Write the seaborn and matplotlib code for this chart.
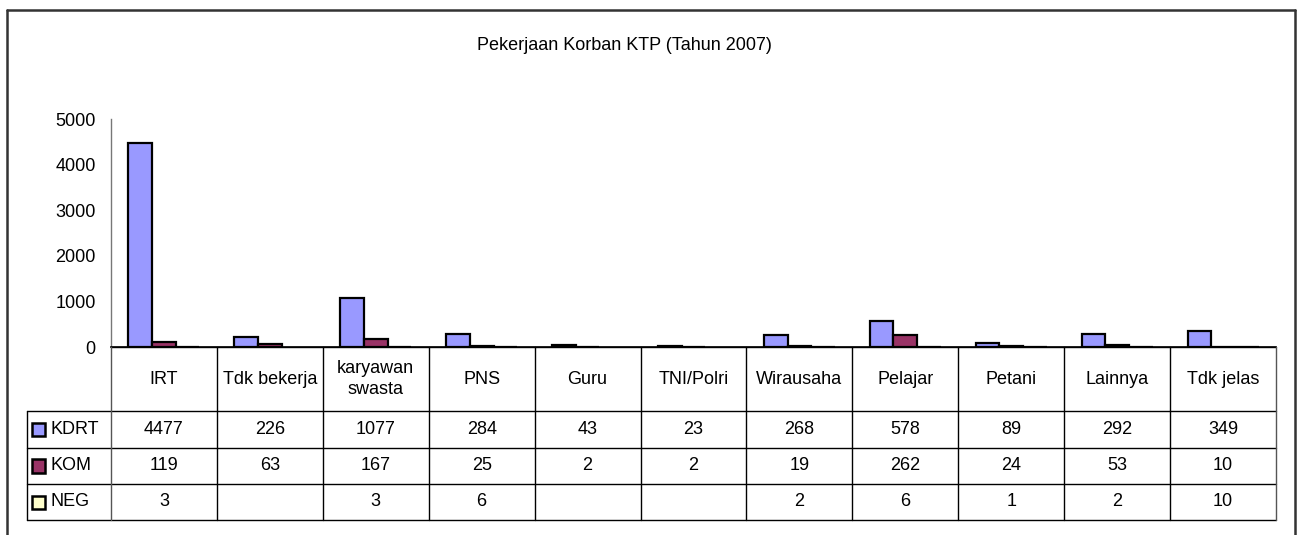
import numpy as np
import pandas as pd
import matplotlib
matplotlib.use('Agg')
import matplotlib.pyplot as plt
from matplotlib.lines import Line2D
from matplotlib.patches import Rectangle
import seaborn as sns

# data
categories = ['IRT', 'Tdk bekerja', 'karyawan\nswasta', 'PNS', 'Guru', 'TNI/Polri',
              'Wirausaha', 'Pelajar', 'Petani', 'Lainnya', 'Tdk jelas']
kdrt = [4477, 226, 1077, 284, 43, 23, 268, 578, 89, 292, 349]
kom = [119, 63, 167, 25, 2, 2, 19, 262, 24, 53, 10]
neg = [3, np.nan, 3, 6, np.nan, np.nan, 2, 6, 1, 2, 10]
series = ['KDRT', 'KOM', 'NEG']
colors = ['#9999FF', '#993366', '#FFFFCC']
title = 'Pekerjaan Korban KTP (Tahun 2007)'

sns.set_theme(style='white')
plt.rcParams['font.family'] = ['Liberation Sans', 'DejaVu Sans']
plt.rcParams['text.color'] = 'black'

W, H = 1300, 535
fig = plt.figure(figsize=(W / 100, H / 100), dpi=100)
FS = 13


def fx(px):
    return px / W


def fy(py):
    return 1 - py / H


# plot area in pixels
left, right, top, base = 111, 1276, 119, 347
ax = fig.add_axes([fx(left), fy(base), fx(right - left), fy(top) - fy(base)])

df = pd.DataFrame({
    'cat': categories * 3,
    'serie': np.repeat(series, len(categories)),
    'val': kdrt + kom + neg,
})
sns.barplot(data=df, x='cat', y='val', hue='serie', order=categories, hue_order=series,
            palette=colors, saturation=1, width=0.67, edgecolor='black', linewidth=1.6,
            legend=False, ax=ax)

ax.set_xlim(-0.5, len(categories) - 0.5)
ax.set_ylim(0, 5000)
ax.set_yticks(range(0, 5001, 1000))
ax.tick_params(axis='y', direction='out', length=6, width=1, color='#555555',
               labelsize=FS, pad=5, labelcolor='black')
ax.tick_params(axis='x', length=0, labelbottom=False)
ax.set_xlabel('')
ax.set_ylabel('')
for s in ['top', 'right']:
    ax.spines[s].set_visible(False)
ax.spines['left'].set_color('#777777')
ax.spines['left'].set_linewidth(1)
ax.spines['bottom'].set_color('black')
ax.spines['bottom'].set_linewidth(1.2)
ax.set_facecolor('white')

# data table under the plot
row_y = [347, 411, 448, 484, 520]
leg_x = 27
colw = (right - left) / len(categories)
lc = 'black'
lw = 1.0
fig.add_artist(Line2D([fx(left), fx(right)], [fy(row_y[0])] * 2, color=lc, lw=lw))
for yy in row_y[1:]:
    fig.add_artist(Line2D([fx(leg_x), fx(right)], [fy(yy)] * 2, color=lc, lw=lw))
for i in range(len(categories) + 1):
    xx = left + i * colw
    fig.add_artist(Line2D([fx(xx)] * 2, [fy(row_y[0]), fy(row_y[-1])],
                          color='#555555' if i in (0, len(categories)) else lc, lw=lw))
fig.add_artist(Line2D([fx(leg_x)] * 2, [fy(row_y[1]), fy(row_y[-1])], color=lc, lw=lw))

for i, c in enumerate(categories):
    cx = left + (i + 0.5) * colw
    fig.text(fx(cx), fy((row_y[0] + row_y[1]) / 2), c, ha='center', va='center',
             fontsize=FS, linespacing=1.3)
    for r, vals in enumerate([kdrt, kom, neg]):
        v = vals[i]
        if not np.isnan(v):
            fig.text(fx(cx), fy((row_y[r + 1] + row_y[r + 2]) / 2), f'{int(v)}',
                     ha='center', va='center', fontsize=FS)

# legend keys in the table's first column
for r, (s, col) in enumerate(zip(series, colors)):
    cy = (row_y[r + 1] + row_y[r + 2]) / 2
    fig.add_artist(Rectangle((fx(leg_x + 5), fy(cy + 6.5)), fx(13), fy(cy - 6.5) - fy(cy + 6.5),
                             facecolor=col, edgecolor='black', lw=1.8))
    fig.text(fx(leg_x + 23), fy(cy), s, ha='left', va='center', fontsize=FS)

fig.text(fx(624), fy(46), title, ha='center', va='center', fontsize=FS)

# chart area frame
fc = '#333333'
fig.add_artist(Line2D([fx(7), fx(7)], [fy(10), 0], color=fc, lw=1.8))
fig.add_artist(Line2D([fx(7), fx(1295)], [fy(10), fy(10)], color=fc, lw=1.8))
fig.add_artist(Line2D([fx(1295), fx(1295)], [fy(10), 0], color=fc, lw=1.8))

fig.savefig('out.png', dpi=100, facecolor='white')
